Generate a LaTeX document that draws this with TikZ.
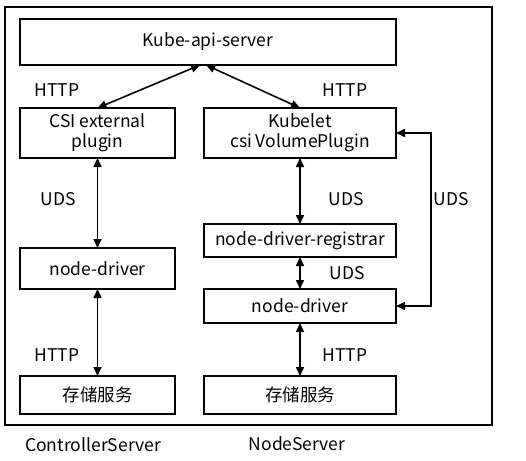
\documentclass[tikz,border=0pt]{standalone}
\usepackage{fontspec}
\setmainfont{Noto Sans CJK SC}
\usetikzlibrary{arrows.meta}

\begin{document}
\begin{tikzpicture}[x=1pt, y=-1pt, inner sep=0, outer sep=0,
    box/.style={rectangle, draw=black, line width=2pt, align=center,
      font=\fontsize{17.5}{20}\selectfont},
    lbl/.style={font=\fontsize{17.5}{20}\selectfont},
    link/.style={line width=1.6pt, {Triangle[length=9pt,width=8pt]}-{Triangle[length=9pt,width=8pt]}}]
  \useasboundingbox (0,0) rectangle (526,460);
  \node[rectangle, draw=black, line width=2pt, minimum width=487pt, minimum height=418pt] (frame) at (248.5, 216) {};

  \node[box, minimum width=376pt, minimum height=46pt] (api) at (208, 42) {Kube-api-server};
  \node[box, minimum width=155pt, minimum height=50pt] (csi) at (97.5, 133) {CSI external\\plugin};
  \node[box, minimum width=192pt, minimum height=50pt] (kubelet) at (300, 133) {Kubelet\\csi VolumePlugin};
  \node[box, minimum width=192pt, minimum height=33pt] (reg) at (300, 240.5) {node-driver-registrar};
  \node[box, minimum width=155pt, minimum height=41pt] (ndl) at (97.5, 268.5) {node-driver};
  \node[box, minimum width=192pt, minimum height=34pt] (ndr) at (300, 306) {node-driver};
  \node[box, minimum width=155pt, minimum height=38pt] (stl) at (97.5, 395) {存储服务};
  \node[box, minimum width=192pt, minimum height=38pt] (str) at (300, 395) {存储服务};

  \draw[link] ([xshift=-8pt]api.south) -- (csi.north);
  \draw[link] ([xshift=-2pt]api.south) -- (kubelet.north);
  \draw[link] (csi.south) -- (ndl.north);
  \draw[link] (ndl.south) -- (stl.north);
  \draw[link] (kubelet.south) -- (reg.north);
  \draw[link] (reg.south) -- (ndr.north);
  \draw[link] (ndr.south) -- (str.north);
  \coordinate (loop) at ([xshift=35pt]kubelet.east);
  \draw[link] (kubelet.east) -- (loop) |- (ndr.east);

  \node[lbl] (http1) at (57, 90) {HTTP};
  \node[lbl] (http2) at (345, 90) {HTTP};
  \node[lbl] (uds1) at (58, 199) {UDS};
  \node[lbl] (uds2) at (346, 199) {UDS};
  \node[lbl] (uds3) at (451, 199) {UDS};
  \node[lbl] (uds4) at (347, 273) {UDS};
  \node[lbl] (http3) at (57, 355) {HTTP};
  \node[lbl] (http4) at (345, 355) {HTTP};
  \node[lbl] (ctrl) at (93, 445) {ControllerServer};
  \node[lbl] (nodesrv) at (297, 444) {NodeServer};
\end{tikzpicture}
\end{document}
